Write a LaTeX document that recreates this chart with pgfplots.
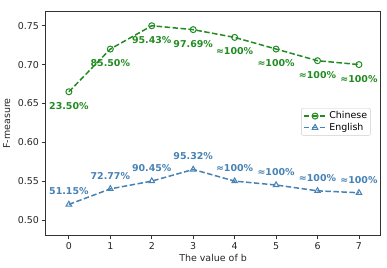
\documentclass[border=0pt]{standalone}
\usepackage{fontspec}
\setmainfont{DejaVu Sans}
\usepackage{pgfplots}
\pgfplotsset{compat=1.18}
\definecolor{cgreen}{HTML}{228B22}
\definecolor{cblue}{HTML}{4682B4}
\definecolor{spine}{HTML}{333333}
\begin{document}
\fontsize{9.5}{11}\selectfont
\begin{tikzpicture}
\begin{axis}[
  name=ax, scale only axis, width=335bp, height=225bp,
  xmin=-0.56, xmax=7.52, ymin=0.4795, ymax=0.769,
  xtick={0,1,2,3,4,5,6,7},
  ytick={0.50,0.55,0.60,0.65,0.70,0.75},
  yticklabel style={/pgf/number format/.cd, fixed, fixed zerofill, precision=2},
  /pgf/number format/assume math mode=true,
  tick align=outside, xtick pos=bottom, ytick pos=left,
  major tick length=3.5bp,
  tick style={spine, line width=0.8bp},
  axis line style={spine, line width=0.8bp},
  ticklabel style={font=\fontsize{9.5}{11}\selectfont, text=black!85},
  xlabel={The value of b}, ylabel={F-measure},
  label style={font=\fontsize{9.5}{11}\selectfont, text=black!85},
  xlabel style={at={(axis description cs:0.5,-0.098)}, anchor=center},
  ylabel style={at={(axis description cs:-0.116,0.5)}, anchor=center},
  legend style={at={(axis description cs:0.971,0.507)}, anchor=east, draw=black!20, rounded corners=2bp,
    font=\fontsize{9.5}{11}\selectfont, inner sep=1.5bp, row sep=-1bp},
  legend cell align=left,
  legend image code/.code={\draw[mark repeat=2,mark phase=2,#1] plot coordinates {(0bp,0bp) (11.5bp,0bp) (23bp,0bp)};},
]
\addplot[cgreen, line width=1.5bp, dash pattern=on 5.5bp off 2.5bp, mark=o, mark size=3bp,
  mark options={solid, fill=white, line width=1bp},
  nodes near coords, point meta=explicit symbolic,
  nodes near coords style={anchor=center, yshift=-14bp, font=\fontsize{9.5}{11}\selectfont\bfseries, text=cgreen}]
  coordinates {
  (0,0.665) [23.50\%]
  (1,0.720) [85.50\%]
  (2,0.750) [95.43\%]
  (3,0.745) [97.69\%]
  (4,0.735) [≈100\%]
  (5,0.720) [≈100\%]
  (6,0.705) [≈100\%]
  (7,0.700) [≈100\%]
  };
\addlegendentry{Chinese}
\addplot[cblue, line width=1.5bp, dash pattern=on 5.5bp off 2.5bp, mark=triangle, mark size=3.2bp,
  mark options={solid, fill=white, line width=1bp},
  nodes near coords, point meta=explicit symbolic,
  nodes near coords style={anchor=center, yshift=13bp, font=\fontsize{9.5}{11}\selectfont\bfseries, text=cblue}]
  coordinates {
  (0,0.520) [51.15\%]
  (1,0.540) [72.77\%]
  (2,0.550) [90.45\%]
  (3,0.565) [95.32\%]
  (4,0.550) [≈100\%]
  (5,0.545) [≈100\%]
  (6,0.5375) [≈100\%]
  (7,0.535) [≈100\%]
  };
\addlegendentry{English}
\end{axis}
\pgfresetboundingbox
\path ([shift={(-45.7bp,-32bp)}]ax.south west) rectangle ([shift={(6.5bp,11bp)}]ax.north east);
\end{tikzpicture}
\end{document}
